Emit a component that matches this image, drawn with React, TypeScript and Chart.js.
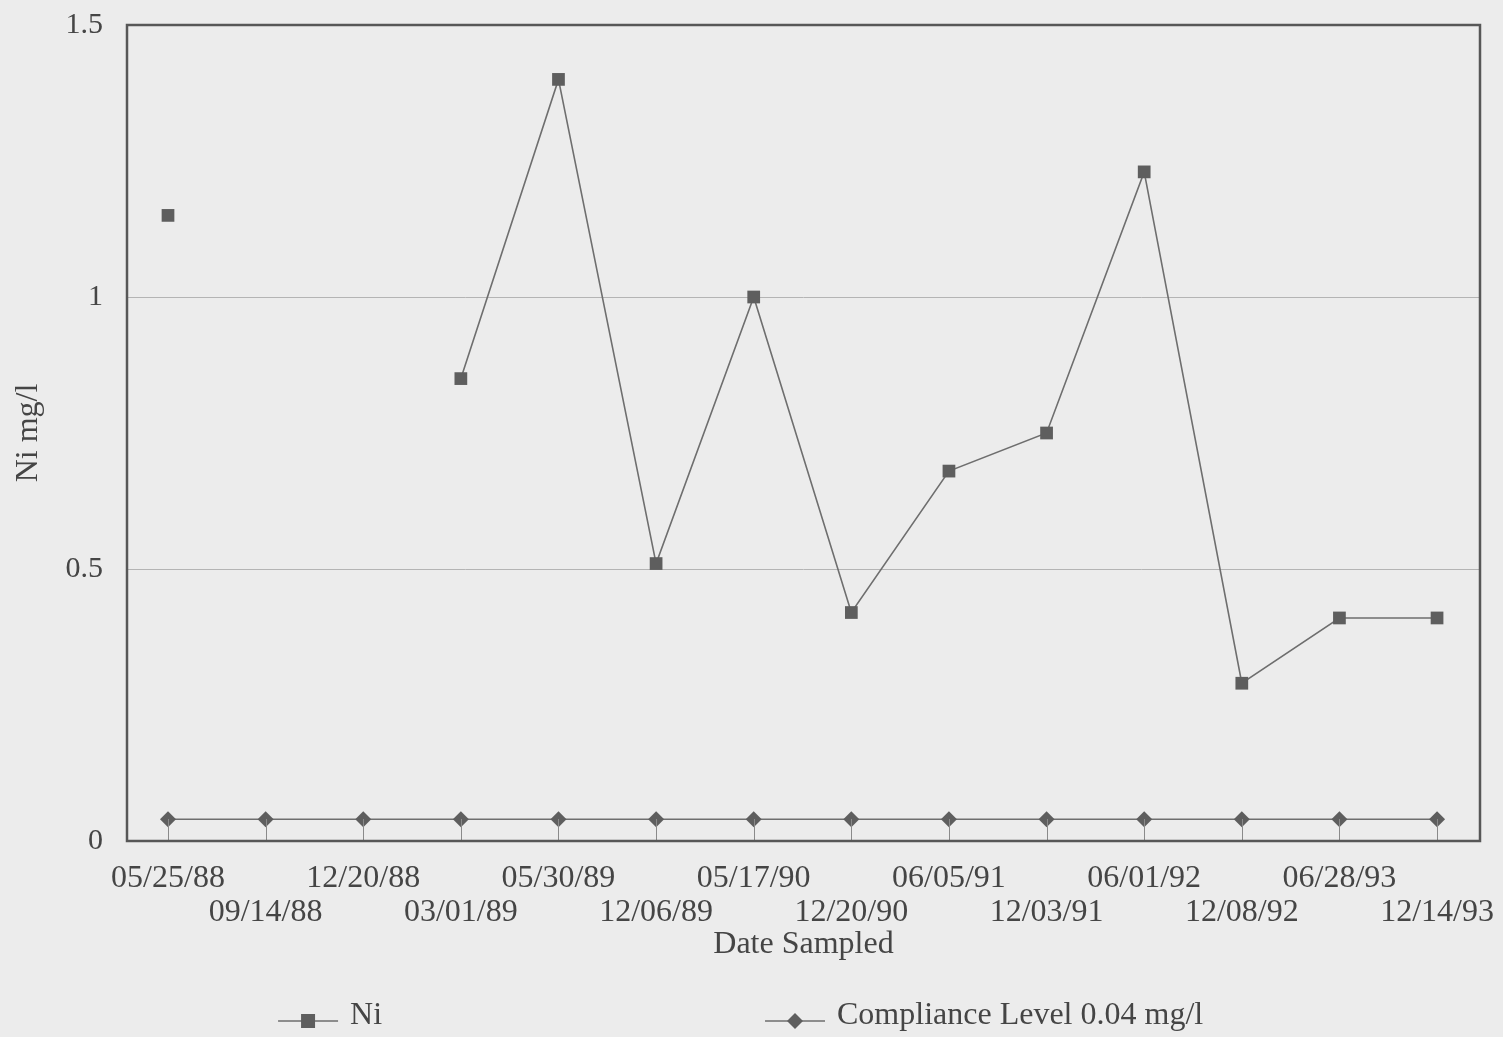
import React, { useEffect, useRef } from "react";
import { Chart, registerables } from "chart.js";

Chart.register(...registerables);

const dateLabels = [
  "05/25/88", "09/14/88", "12/20/88", "03/01/89", "05/30/89", "12/06/89", "05/17/90",
  "12/20/90", "06/05/91", "12/03/91", "06/01/92", "12/08/92", "06/28/93", "12/14/93",
];
const niValues: (number | null)[] = [
  1.15, null, null, 0.85, 1.4, 0.51, 1.0, 0.42, 0.68, 0.75, 1.23, 0.29, 0.41, 0.41,
];
const complianceValues = [
  0.04, 0.04, 0.04, 0.04, 0.04, 0.04, 0.04, 0.04, 0.04, 0.04, 0.04, 0.04, 0.04, 0.04,
];
const yTickValues = [0, 0.5, 1, 1.5];
const seriesNames = ["Ni", "Compliance Level 0.04 mg/l"];
const xTitle = "Date Sampled";
const yTitle = "Ni mg/l";

const FONT = "'Liberation Serif', 'DejaVu Serif', 'Times New Roman', serif";
const TEXT = "#454545";
const LINE = "#6e6e6e";
const MARK = "#5e5e5e";
const BG = "#ececec";

const framePlugin = {
  id: "frameAndTicks",
  afterDraw(chart: any) {
    const { ctx, chartArea } = chart;
    const xs = chart.scales.x;
    ctx.save();
    // inward tick marks
    ctx.strokeStyle = "#8a8a8a";
    ctx.lineWidth = 1;
    dateLabels.forEach((_, i) => {
      const px = Math.round(xs.getPixelForValue(i)) + 0.5;
      ctx.beginPath();
      ctx.moveTo(px, chartArea.bottom);
      ctx.lineTo(px, chartArea.bottom - 22);
      ctx.stroke();
    });
    // frame
    ctx.strokeStyle = "#575757";
    ctx.lineWidth = 2.5;
    ctx.strokeRect(chartArea.left, chartArea.top, chartArea.right - chartArea.left, chartArea.bottom - chartArea.top);

    // legend
    const w = chart.width;
    const ly = 1021;
    const items = [
      { x0: w * 0.185, style: "rect", r: 7 },
      { x0: w * 0.509, style: "rectRot", r: 8 },
    ];
    ctx.font = `32px ${FONT}`;
    ctx.textBaseline = "alphabetic";
    ctx.textAlign = "left";
    items.forEach((it, k) => {
      const x1 = it.x0 + 60;
      ctx.strokeStyle = LINE;
      ctx.lineWidth = 1.5;
      ctx.beginPath();
      ctx.moveTo(it.x0, ly);
      ctx.lineTo(x1, ly);
      ctx.stroke();
      const cx = (it.x0 + x1) / 2;
      ctx.fillStyle = MARK;
      ctx.beginPath();
      if (it.style === "rect") {
        ctx.rect(cx - it.r, ly - it.r, it.r * 2, it.r * 2);
      } else {
        ctx.moveTo(cx - it.r, ly);
        ctx.lineTo(cx, ly - it.r);
        ctx.lineTo(cx + it.r, ly);
        ctx.lineTo(cx, ly + it.r);
        ctx.closePath();
      }
      ctx.fill();
      ctx.fillStyle = TEXT;
      ctx.fillText(seriesNames[k], x1 + 12, ly + 3);
    });
    ctx.restore();
  },
};

export default function App() {
  const ref = useRef<HTMLCanvasElement | null>(null);

  useEffect(() => {
    if (!ref.current) return;
    const chart = new Chart(ref.current, {
      type: "line",
      data: {
        datasets: [
          {
            label: seriesNames[0],
            data: niValues.map((v, i) => ({ x: i, y: v })) as any,
            borderColor: LINE,
            borderWidth: 1.6,
            pointStyle: "rect",
            pointRadius: 9,
            pointBackgroundColor: MARK,
            pointBorderColor: MARK,
            pointBorderWidth: 0,
            spanGaps: false,
            tension: 0,
          },
          {
            label: seriesNames[1],
            data: complianceValues.map((v, i) => ({ x: i, y: v })),
            borderColor: LINE,
            borderWidth: 1.6,
            pointStyle: "rectRot",
            pointRadius: 8,
            pointBackgroundColor: MARK,
            pointBorderColor: MARK,
            pointBorderWidth: 0,
            tension: 0,
          },
        ],
      },
      options: {
        responsive: false,
        animation: false,
        layout: { padding: { left: 0, top: 25, right: 23, bottom: 0 } },
        plugins: {
          legend: { display: false },
          tooltip: { enabled: false },
        },
        scales: {
          x: {
            type: "linear",
            min: -0.42,
            max: 13.44,
            afterBuildTicks: (scale: any) => {
              scale.ticks = dateLabels.map((_, i) => ({ value: i }));
            },
            afterFit: (scale: any) => {
              scale.height = 196;
              scale.paddingLeft = 0;
              scale.paddingRight = 0;
            },
            grid: { display: false, drawTicks: false },
            border: { display: false },
            ticks: {
              autoSkip: false,
              maxRotation: 0,
              minRotation: 0,
              padding: 21,
              color: TEXT,
              font: { family: FONT, size: 32, lineHeight: "34px" } as any,
              callback: (value: any) => {
                const i = Math.round(Number(value));
                const lab = dateLabels[i] ?? "";
                return i % 2 === 0 ? [lab] : ["", lab];
              },
            },
            title: {
              display: true,
              text: xTitle,
              color: TEXT,
              font: { family: FONT, size: 32 },
              padding: { top: 0, bottom: 73 },
            },
          },
          y: {
            min: 0,
            max: 1.5,
            afterBuildTicks: (scale: any) => {
              scale.ticks = yTickValues.map((v) => ({ value: v }));
            },
            afterFit: (scale: any) => {
              scale.width = 127;
              scale.paddingTop = 0;
              scale.paddingBottom = 0;
            },
            grid: {
              drawTicks: false,
              color: (c: any) =>
                c.tick && (c.tick.value === 0 || c.tick.value === 1.5) ? "rgba(0,0,0,0)" : "#b4b4b4",
              lineWidth: 1,
            },
            border: { display: false },
            ticks: {
              padding: 24,
              color: TEXT,
              font: { family: FONT, size: 30 },
              callback: (value: any) => String(value),
            },
            title: {
              display: true,
              text: yTitle,
              color: TEXT,
              font: { family: FONT, size: 32 },
              padding: { top: 9, bottom: 0 },
            },
          },
        },
      },
      plugins: [framePlugin],
    });
    return () => chart.destroy();
  }, []);

  return (
    <div
      style={{
        position: "fixed",
        left: 0,
        top: 0,
        width: 1503,
        height: 1037,
        background: BG,
      }}
    >
      <canvas ref={ref} width={1503} height={1037} style={{ display: "block" }} />
    </div>
  );
}
